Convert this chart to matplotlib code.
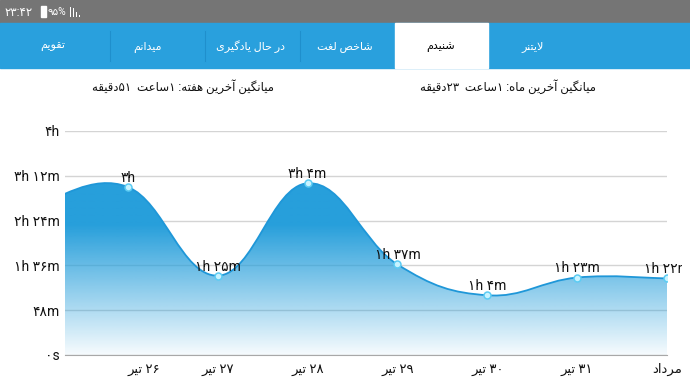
import itertools

import matplotlib

matplotlib.use("Agg")
import matplotlib.pyplot as plt
import numpy as np
from matplotlib.patches import PathPatch, Rectangle
from matplotlib.path import Path
from matplotlib.transforms import Bbox, TransformedBbox

plt.rcParams["font.family"] = ["Roboto", "DejaVu Sans"]

# ---- data (minutes listened per day) ----
DAYS = ["۲۶ تیر", "۲۷ تیر", "۲۸ تیر", "۲۹ تیر", "۳۰ تیر", "۳۱ تیر", "مرداد"]
MINUTES = [180, 85, 184, 97, 64, 83, 82]
POINT_LABELS = ["۳h", "۱h ۲۵m", "۳h ۴m", "۱h ۳۷m", "۱h ۴m", "۱h ۲۳m", "۱h ۲۲m"]
PREV_MINUTES = 161  # day scrolled off to the left (۲۵ تیر)
Y_TICKS = [0, 48, 96, 144, 192, 240]
Y_LABELS = ["۰s", "۴۸m", "۱h ۳۶m", "۲h ۲۴m", "۳h ۱۲m", "۴h"]
TABS = ["تقویم", "میدانم", "در حال یادگیری", "شاخص لغت", "شنیدم", "لایتنر"]
TAB_X = [53, 148, 251, 345, 441, 533]
HEADERS = ["میانگین آخرین هفته: ۱ساعت  ۵۱دقیقه", "میانگین آخرین ماه: ۱ساعت  ۲۳دقیقه"]

BLUE = "#279fdb"
LINE = "#1f97d8"

# minimal Persian shaping: (isolated, final, initial, medial)
FORMS = {
    "ا": ("\uFE8D", "\uFE8E", None, None), "آ": ("\uFE81", "\uFE82", None, None),
    "د": ("\uFEA9", "\uFEAA", None, None), "ر": ("\uFEAD", "\uFEAE", None, None),
    "و": ("\uFEED", "\uFEEE", None, None),
    "ت": ("\uFE95", "\uFE96", "\uFE97", "\uFE98"), "ح": ("\uFEA1", "\uFEA2", "\uFEA3", "\uFEA4"),
    "خ": ("\uFEA5", "\uFEA6", "\uFEA7", "\uFEA8"), "س": ("\uFEB1", "\uFEB2", "\uFEB3", "\uFEB4"),
    "ش": ("\uFEB5", "\uFEB6", "\uFEB7", "\uFEB8"), "ص": ("\uFEB9", "\uFEBA", "\uFEBB", "\uFEBC"),
    "ع": ("\uFEC9", "\uFECA", "\uFECB", "\uFECC"), "غ": ("\uFECD", "\uFECE", "\uFECF", "\uFED0"),
    "ف": ("\uFED1", "\uFED2", "\uFED3", "\uFED4"), "ق": ("\uFED5", "\uFED6", "\uFED7", "\uFED8"),
    "ل": ("\uFEDD", "\uFEDE", "\uFEDF", "\uFEE0"), "م": ("\uFEE1", "\uFEE2", "\uFEE3", "\uFEE4"),
    "ن": ("\uFEE5", "\uFEE6", "\uFEE7", "\uFEE8"), "ه": ("\uFEE9", "\uFEEA", "\uFEEB", "\uFEEC"),
    "ی": ("\uFBFC", "\uFBFD", "\uFBFE", "\uFBFF"), "گ": ("\uFB92", "\uFB93", "\uFB94", "\uFB95"),
}


def is_ltr(c):
    return c.isascii() and c.isalnum() or "\u06F0" <= c <= "\u06F9" or c == "%"


def fa(s):
    out, i = [], 0
    while i < len(s):
        c = s[i]
        if c not in FORMS:
            out.append(c)
            i += 1
            continue
        prev = s[i - 1] if i > 0 else ""
        jp = prev in FORMS and FORMS[prev][2] is not None
        if c == "ل" and s[i + 1:i + 2] == "ا":
            out.append("\uFEFC" if jp else "\uFEFB")
            i += 2
            continue
        nxt = s[i + 1] if i + 1 < len(s) else ""
        jn = FORMS[c][2] is not None and nxt in FORMS
        iso, fin, ini, med = FORMS[c]
        out.append(med if jp and jn else fin if jp else ini if jn else iso)
        i += 1
    vis = []
    for ltr, grp in itertools.groupby(out[::-1], key=is_ltr):
        g = list(grp)
        vis.extend(g[::-1] if ltr else g)
    return "".join(vis)


fig = plt.figure(figsize=(6.9, 3.88), dpi=100)
fig.patch.set_facecolor("white")

# ---- app chrome in pixel coords ----
bg = fig.add_axes([0, 0, 1, 1])
bg.set_xlim(0, 690)
bg.set_ylim(388, 0)
bg.axis("off")
bg.add_patch(Rectangle((0, 0), 690, 23, color="#757575"))
bg.add_patch(Rectangle((0, 23), 690, 45, color="#29a0dd"))
bg.add_patch(Rectangle((395, 23), 93, 45, color="white"))
for sx in (110, 205, 300):
    bg.plot([sx, sx], [31, 61], color="#1f8fcc", lw=0.8)
for tx, name in zip(TAB_X, TABS):
    bg.text(tx, 47, fa(name), ha="center", va="center", fontsize=8,
            color="black" if name == "شنیدم" else "white")
bg.text(5, 12, "۲۳:۴۲", ha="left", va="center", fontsize=8.5, color="white")
bg.add_patch(Rectangle((41, 6), 5, 11, color="white"))
bg.text(48, 12, "۹۵%", ha="left", va="center", fontsize=7.5, color="white")
for bx, bh in zip((70, 73, 76, 79), (10, 9, 5, 1.5)):
    bg.add_patch(Rectangle((bx, 16.5 - bh), 1.1, bh, color="white", lw=0))
bg.text(183, 87, fa(HEADERS[0]), ha="center", va="center", fontsize=8.5, color="#111111")
bg.text(508, 87, fa(HEADERS[1]), ha="center", va="center", fontsize=8.5, color="#111111")

# ---- chart ----
ax = fig.add_axes([65 / 690, 33 / 388, 602 / 690, 224 / 388])
xs = np.arange(len(MINUTES))
px = np.concatenate([[-1], xs]).astype(float)
py = np.array([PREV_MINUTES] + MINUTES, dtype=float)

# cubic bezier like MPAndroidChart (intensity 0.2)
k = 0.2
verts = [(px[0], py[0])]
codes = [Path.MOVETO]
n = len(px)
for j in range(1, n):
    pp, p, c, nx = max(j - 2, 0), j - 1, j, min(j + 1, n - 1)
    verts += [(px[p] + (px[c] - px[pp]) * k, py[p] + (py[c] - py[pp]) * k),
              (px[c] - (px[nx] - px[p]) * k, py[c] - (py[nx] - py[p]) * k),
              (px[c], py[c])]
    codes += [Path.CURVE4] * 3
curve = Path(verts, codes)
fill_path = Path([(px[0], 0)] + verts + [(px[-1], 0), (px[0], 0)],
                 [Path.MOVETO, Path.LINETO] + codes[1:] + [Path.LINETO, Path.CLOSEPOLY])

fill_patch = PathPatch(fill_path, facecolor="none", edgecolor="none")
ax.add_patch(fill_patch)
v = np.linspace(0, 240, 256)
grad = np.zeros((256, 1, 4))
grad[..., :3] = matplotlib.colors.to_rgb(BLUE)
grad[:, 0, 3] = np.clip(0.04 + v * 0.0069, 0, 1)
im = ax.imshow(grad, extent=[-0.7, 6.0, 0, 240], origin="lower", aspect="auto",
               interpolation="bilinear", zorder=1)
im.set_clip_path(fill_patch)
ax.add_patch(PathPatch(curve, facecolor="none", edgecolor=LINE, lw=1.3, zorder=3))
ax.plot(xs, MINUTES, "o", ms=5, mfc="#c8f3ff", mec="#5cccf3", mew=1.1, zorder=4)

for i, (x, m, lbl) in enumerate(zip(xs, MINUTES, POINT_LABELS)):
    t = ax.annotate(lbl, (x, m), xytext=(0, 1.5), textcoords="offset points",
                    ha="center", va="bottom", fontsize=10, color="#111111", zorder=5)
    t.set_clip_path(None)
    t.set_clip_on(i == len(xs) - 1)
    if i == len(xs) - 1:
        t.set_clip_box(TransformedBbox(Bbox([[0, 0], [682 / 690, 1]]), fig.transFigure))

ax.set_xlim(-0.7, 6.0)
ax.set_ylim(0, 240)
ax.set_yticks(Y_TICKS)
ax.set_yticklabels(Y_LABELS, fontsize=10, color="#111111")
ax.set_xticks(xs)
ax.set_xticklabels([fa(d) for d in DAYS], fontsize=9.5, color="#111111")
ax.get_xticklabels()[0].set_horizontalalignment("left")
ax.tick_params(axis="y", length=0, pad=4)
ax.tick_params(axis="x", length=0, pad=6)
ax.grid(axis="y", color="#d4d4d4", lw=1)
ax.set_axisbelow(True)
for s in ("top", "right", "left"):
    ax.spines[s].set_visible(False)
ax.spines["bottom"].set_color("#a8a8a8")
ax.spines["bottom"].set_zorder(2.5)

fig.savefig("out.png", dpi=100, facecolor="white")
